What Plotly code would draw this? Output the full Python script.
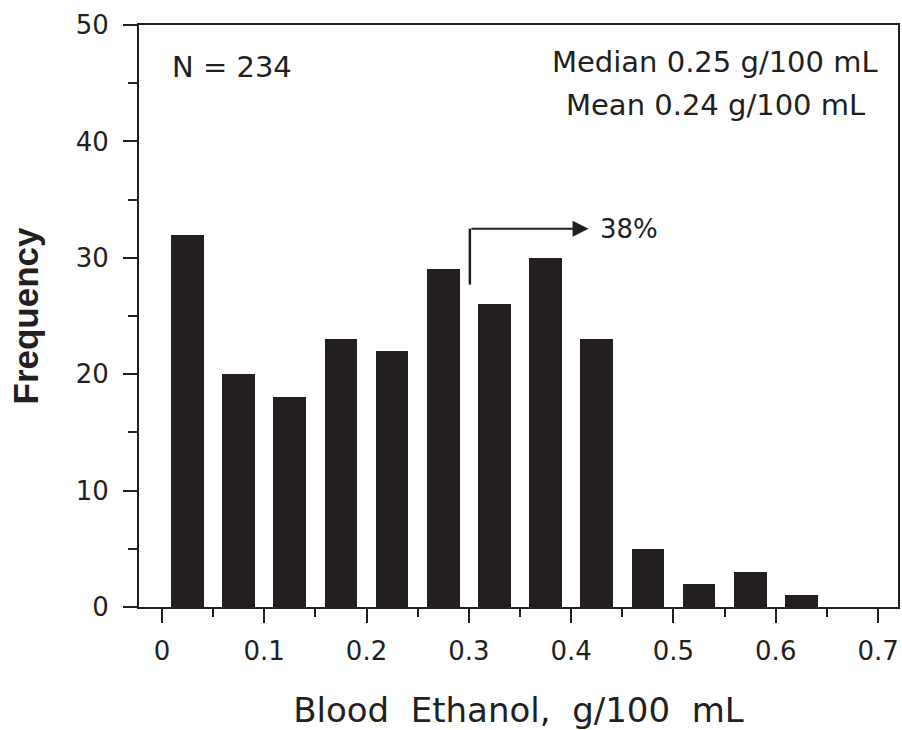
import plotly.graph_objects as go

# Data
bin_centers = [0.025, 0.075, 0.125, 0.175, 0.225, 0.275, 0.325, 0.375, 0.425, 0.475, 0.525, 0.575, 0.625]
frequency = [32, 20, 18, 23, 22, 29, 26, 30, 23, 5, 2, 3, 1]
x_ticks = [0, 0.1, 0.2, 0.3, 0.4, 0.5, 0.6, 0.7]
x_tick_labels = ["0", "0.1", "0.2", "0.3", "0.4", "0.5", "0.6", "0.7"]
y_ticks = [0, 10, 20, 30, 40, 50]
y_tick_labels = ["0", "10", "20", "30", "40", "50"]

n_text = "N = 234"
median_text = "Median 0.25 g/100 mL"
mean_text = "Mean 0.24 g/100 mL"
pct_text = "38%"

# annotation anchor points (data coords)
arrow_x0, arrow_x1 = 0.301, 0.417
arrow_ybot, arrow_ytop = 27.7, 32.5

FONT = "DejaVu Sans"
BLACK = "#231f20"

fig = go.Figure()
fig.add_trace(go.Bar(
    x=bin_centers, y=frequency, width=0.032,
    marker=dict(color=BLACK, line=dict(width=0)),
    showlegend=False,
))

fig.update_layout(
    width=902, height=730,
    margin=dict(l=139, r=2, t=25, b=123),
    plot_bgcolor="white", paper_bgcolor="white",
    font=dict(family=FONT, color=BLACK),
    xaxis=dict(
        range=[-0.02242, 0.7195],
        tickvals=x_ticks, ticktext=x_tick_labels,
        ticks="outside", ticklen=14, tickwidth=2, tickcolor=BLACK,
        minor=dict(dtick=0.05, tick0=0, ticks="outside", ticklen=8, tickwidth=2, tickcolor=BLACK),
        showline=True, linewidth=2, linecolor=BLACK, mirror=True,
        showgrid=False, zeroline=False,
        tickfont=dict(size=26, family=FONT, color=BLACK),
        ticklabelstandoff=6,
        title=dict(text="Blood\u00a0\u00a0Ethanol,\u00a0\u00a0g/100\u00a0\u00a0mL",
                   font=dict(size=34, family=FONT, color=BLACK), standoff=34),
    ),
    yaxis=dict(
        range=[0, 50],
        tickvals=y_ticks, ticktext=y_tick_labels,
        ticks="outside", ticklen=14, tickwidth=2, tickcolor=BLACK,
        minor=dict(dtick=5, tick0=0, ticks="outside", ticklen=9, tickwidth=2, tickcolor=BLACK),
        showline=True, linewidth=2, linecolor=BLACK, mirror=True,
        showgrid=False, zeroline=False,
        tickfont=dict(size=26, family=FONT, color=BLACK),
        ticklabelstandoff=9,
        title=dict(text="<b>Frequency</b>",
                   font=dict(size=35, family="Liberation Sans", color=BLACK), standoff=26),
    ),
    bargap=0,
)

fig.add_annotation(x=0.0078, y=46.4, xref="x", yref="y", text=n_text, showarrow=False,
                   xanchor="left", yanchor="middle", font=dict(size=29, family=FONT, color=BLACK))
fig.add_annotation(x=0.541, y=46.8, xref="x", yref="y", text=median_text, showarrow=False,
                   xanchor="center", yanchor="middle", font=dict(size=29, family=FONT, color=BLACK))
fig.add_annotation(x=0.541, y=43.1, xref="x", yref="y", text=mean_text, showarrow=False,
                   xanchor="center", yanchor="middle", font=dict(size=29, family=FONT, color=BLACK))
fig.add_annotation(x=0.426, y=32.5, xref="x", yref="y", text=pct_text, showarrow=False,
                   xanchor="left", yanchor="middle", font=dict(size=26, family=FONT, color=BLACK))

fig.add_shape(type="line", xref="x", yref="y", x0=arrow_x0, x1=arrow_x0,
              y0=arrow_ybot, y1=arrow_ytop, line=dict(color=BLACK, width=2.5))
fig.add_annotation(x=arrow_x1, y=arrow_ytop, ax=arrow_x0, ay=arrow_ytop,
                   xref="x", yref="y", axref="x", ayref="y", text="",
                   showarrow=True, arrowhead=2, arrowsize=1.6, arrowwidth=2, arrowcolor=BLACK)

fig.write_html("out.html", config={"displayModeBar": False},
               post_script="document.body.style.margin='0';document.body.style.overflow='hidden';")
